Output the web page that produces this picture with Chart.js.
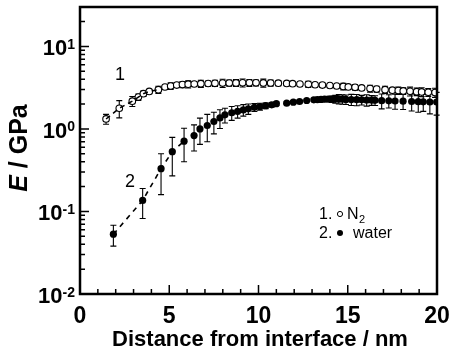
<!DOCTYPE html>
<html>
<head>
<meta charset="utf-8">
<script src="https://cdn.jsdelivr.net/npm/chart.js@4.4.1/dist/chart.umd.min.js"></script>
<style>
  body { margin: 0; background: #fff; }
  #wrap { width: 451px; height: 350px; }
</style>
</head>
<body>
<div id="wrap"><canvas id="modulusChart" width="451" height="350"></canvas></div>
<script>
// --- values ---
const n2X = [1.46, 2.2, 2.93, 3.27, 3.55, 3.88, 4.39, 4.76, 5.08, 5.42, 5.74, 6.06, 6.4, 6.77, 7.18, 7.56,
  7.99, 8.36, 8.74, 9.11, 9.49, 9.86, 10.27, 10.68, 11.11, 11.58, 11.91, 12.32, 12.79, 13.17, 13.58, 14.0,
  14.38, 14.75, 15.03, 15.41, 15.78, 16.25, 16.62, 17.09, 17.5, 17.83, 18.11, 18.49, 18.86, 19.14, 19.51, 19.89];
const n2E = [1.32, 1.78, 2.17, 2.43, 2.67, 2.85, 2.99, 3.22, 3.31, 3.4, 3.45, 3.48, 3.5, 3.53, 3.55, 3.57,
  3.59, 3.6, 3.61, 3.62, 3.62, 3.62, 3.61, 3.6, 3.58, 3.56, 3.53, 3.5, 3.47, 3.43, 3.4, 3.36,
  3.31, 3.27, 3.23, 3.19, 3.14, 3.08, 3.04, 2.99, 2.95, 2.92, 2.89, 2.86, 2.83, 2.81, 2.78, 2.76];
const n2Err = [0.18, 0.42, 0.3, 0.22, 0.2, 0.15, 0.3, 0.12, 0.3, 0.15, 0.3, 0.35, 0.2, 0.35, 0.25, 0.3,
  0.4, 0.3, 0.35, 0.4, 0.35, 0.3, 0.4, 0.3, 0.25, 0.2, 0.15, 0.15, 0.3, 0.15, 0.2, 0.15,
  0.15, 0.3, 0.2, 0.25, 0.15, 0.3, 0.25, 0.3, 0.2, 0.3, 0.25, 0.35, 0.3, 0.35, 0.3, 0.35];

const waterX = [1.87, 3.51, 4.54, 5.17, 5.83, 6.39, 6.72, 7.13, 7.5, 7.84, 8.12, 8.5, 8.83, 9.15, 9.43, 9.77,
  10.08, 10.4, 10.74, 11.0, 11.58, 11.95, 12.3, 12.7, 13.1, 13.3, 13.5, 13.7, 13.9, 14.1, 14.3, 14.5,
  14.7, 14.9, 15.2, 15.5, 15.78, 16.06, 16.34, 16.53, 16.9, 17.3, 17.65, 18.1, 18.58, 18.95, 19.23, 19.6, 19.98];
const waterE = [0.053, 0.136, 0.33, 0.53, 0.71, 0.83, 1.0, 1.1, 1.23, 1.36, 1.48, 1.57, 1.63, 1.7, 1.75, 1.83,
  1.87, 1.91, 1.96, 2.02, 2.05, 2.11, 2.15, 2.21, 2.25, 2.27, 2.28, 2.29, 2.3, 2.3, 2.3, 2.3,
  2.29, 2.28, 2.27, 2.26, 2.25, 2.24, 2.23, 2.22, 2.2, 2.19, 2.18, 2.17, 2.15, 2.14, 2.13, 2.12, 2.12];
const waterErr = [0.015, 0.054, 0.17, 0.26, 0.31, 0.29, 0.35, 0.4, 0.36, 0.35, 0.3, 0.3, 0.28, 0.27, 0.25, 0.2,
  0.18, 0.15, 0.12, 0.1, 0.06, 0.06, 0.08, 0.08, 0.1, 0.1, 0.12, 0.15, 0.15, 0.2, 0.25, 0.3,
  0.3, 0.3, 0.35, 0.35, 0.3, 0.35, 0.3, 0.3, 0.45, 0.4, 0.45, 0.45, 0.5, 0.55, 0.5, 0.6, 0.65];

const n2DashedCount = 7;     // leading points joined by the dashed guide
const waterDashedCount = 5;

const xTickLabels = [0, 5, 10, 15, 20];
const yTickExponents = [-2, -1, 0, 1];

const fontFamily = '"Liberation Sans", Arial, Helvetica, sans-serif';

const toPoints = (xs, ys) => xs.map((x, i) => ({ x: x, y: ys[i] }));

// error bars, drawn under the markers
const errorBarPlugin = {
    id: 'errorBars',
    beforeDatasetsDraw(chart) {
        const ctx = chart.ctx;
        const xs = chart.scales.x, ys = chart.scales.y;
        const sets = [[n2X, n2E, n2Err], [waterX, waterE, waterErr]];
        ctx.save();
        ctx.strokeStyle = '#000';
        ctx.lineWidth = 1.1;
        sets.forEach(([xv, ev, er]) => {
            xv.forEach((x, i) => {
                const px = xs.getPixelForValue(x);
                const top = ys.getPixelForValue(ev[i] + er[i]);
                const bot = ys.getPixelForValue(ev[i] - er[i]);
                ctx.beginPath();
                ctx.moveTo(px, top); ctx.lineTo(px, bot);
                ctx.moveTo(px - 3, top); ctx.lineTo(px + 3, top);
                ctx.moveTo(px - 3, bot); ctx.lineTo(px + 3, bot);
                ctx.stroke();
            });
        });
        ctx.restore();
    }
};

// frame, inward ticks, labels, annotations and legend
const decorPlugin = {
    id: 'decor',
    afterDraw(chart) {
        const ctx = chart.ctx;
        const area = chart.chartArea;
        const xs = chart.scales.x, ys = chart.scales.y;
        ctx.save();
        ctx.strokeStyle = '#000';
        ctx.fillStyle = '#000';

        // frame
        ctx.lineWidth = 2.5;
        ctx.strokeRect(area.left, area.top, area.right - area.left, area.bottom - area.top);

        // x ticks
        ctx.lineWidth = 1.5;
        ctx.beginPath();
        for (let v = xs.min; v <= xs.max; v += 1) {
            const px = xs.getPixelForValue(v);
            const len = xTickLabels.includes(v) ? 9 : 5;
            ctx.moveTo(px, area.bottom); ctx.lineTo(px, area.bottom - len);
        }
        // y ticks (log decades + minors)
        yTickExponents.forEach(k => {
            for (let m = 1; m <= 9; m++) {
                const v = m * Math.pow(10, k);
                if (v > ys.max) break;
                const py = ys.getPixelForValue(v);
                const len = m === 1 ? 9 : 5;
                ctx.moveTo(area.left, py); ctx.lineTo(area.left + len, py);
            }
        });
        ctx.stroke();

        // x tick labels
        ctx.font = 'bold 23px ' + fontFamily;
        ctx.textAlign = 'center';
        ctx.textBaseline = 'alphabetic';
        xTickLabels.forEach(v => {
            ctx.fillText(String(v), xs.getPixelForValue(v), 323);
        });

        // y tick labels: 10 with superscript exponent
        yTickExponents.forEach(k => {
            const py = ys.getPixelForValue(Math.pow(10, k));
            const expText = k < 0 ? '-' + Math.abs(k) : String(k);
            ctx.font = 'bold 14px ' + fontFamily;
            const ew = ctx.measureText(expText).width;
            ctx.textAlign = 'left';
            ctx.fillText(expText, 75 - ew, py + 2.5);
            ctx.font = 'bold 22px ' + fontFamily;
            ctx.textAlign = 'right';
            ctx.fillText('10', 75 - ew, py + 9);
        });

        // x title
        ctx.font = 'bold 22px ' + fontFamily;
        ctx.textAlign = 'center';
        ctx.fillText('Distance from interface / nm', 260, 346);

        // y title, E in italic
        ctx.save();
        ctx.translate(27, 148);
        ctx.rotate(-Math.PI / 2);
        const fE = 'italic bold 25px ' + fontFamily;
        const fRest = 'bold 25px ' + fontFamily;
        ctx.font = fE;
        const wE = ctx.measureText('E').width;
        ctx.font = fRest;
        const wRest = ctx.measureText(' / GPa').width;
        const x0 = -(wE + wRest) / 2;
        ctx.textAlign = 'left';
        ctx.font = fE;
        ctx.fillText('E', x0, 0);
        ctx.font = fRest;
        ctx.fillText(' / GPa', x0 + wE, 0);
        ctx.restore();

        // curve numbers
        ctx.font = '18px ' + fontFamily;
        ctx.textAlign = 'center';
        ctx.fillText('1', 120, 80);
        ctx.fillText('2', 130, 187);

        // legend
        ctx.font = '16px ' + fontFamily;
        ctx.textAlign = 'left';
        ctx.fillText('1.', 319, 219);
        ctx.fillText('2.', 319, 238);
        ctx.lineWidth = 1;
        ctx.beginPath();
        ctx.arc(340, 214, 2.6, 0, Math.PI * 2);
        ctx.fillStyle = '#fff';
        ctx.fill();
        ctx.stroke();
        ctx.fillStyle = '#000';
        ctx.beginPath();
        ctx.arc(340, 233, 3, 0, Math.PI * 2);
        ctx.fill();
        ctx.fillText('N', 347, 219);
        const nw = ctx.measureText('N').width;
        ctx.font = '11px ' + fontFamily;
        ctx.fillText('2', 347 + nw + 0.5, 223);
        ctx.font = '16px ' + fontFamily;
        ctx.fillText('water', 353, 238);

        ctx.restore();
    }
};

new Chart(document.getElementById('modulusChart'), {
    type: 'scatter',
    data: {
        datasets: [
            {
                label: 'N2 guide',
                data: toPoints(n2X.slice(0, n2DashedCount), n2E.slice(0, n2DashedCount)),
                showLine: true,
                borderColor: '#000',
                borderWidth: 1.5,
                borderDash: [5, 4],
                pointRadius: 0
            },
            {
                label: 'water guide',
                data: toPoints(waterX.slice(0, waterDashedCount), waterE.slice(0, waterDashedCount)),
                showLine: true,
                borderColor: '#000',
                borderWidth: 1.6,
                borderDash: [5, 5],
                pointRadius: 0
            },
            {
                label: 'N2',
                data: toPoints(n2X, n2E),
                showLine: false,
                pointRadius: 3.3,
                pointBackgroundColor: '#fff',
                pointBorderColor: '#000',
                pointBorderWidth: 1.1
            },
            {
                label: 'water',
                data: toPoints(waterX, waterE),
                showLine: false,
                pointRadius: 3.6,
                pointBackgroundColor: '#000',
                pointBorderColor: '#000',
                pointBorderWidth: 0
            }
        ]
    },
    options: {
        responsive: false,
        animation: false,
        layout: { padding: { left: 80, right: 14, top: 7, bottom: 56 } },
        plugins: {
            legend: { display: false },
            tooltip: { enabled: false }
        },
        scales: {
            x: { type: 'linear', min: 0, max: 20, display: false },
            y: { type: 'logarithmic', min: 0.01, max: 30, display: false }
        }
    },
    plugins: [errorBarPlugin, decorPlugin]
});
</script>
</body>
</html>
